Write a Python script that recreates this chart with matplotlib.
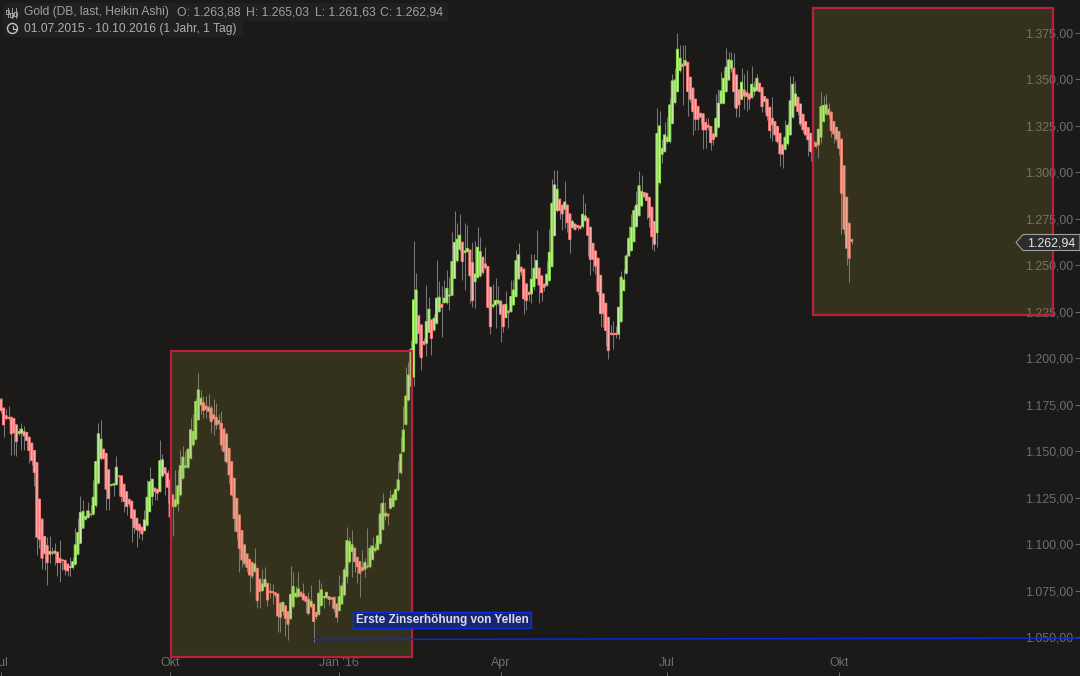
import numpy as np
import matplotlib
matplotlib.use("Agg")
import matplotlib.pyplot as plt
from matplotlib.patches import Rectangle, Circle, Polygon

plt.rcParams['font.family'] = ['Liberation Sans', 'DejaVu Sans']

# heikin ashi werte, aus dem bild gelesen
opens = [
1178.1,1173.3,1169.2,1168.4,1168.4,1167.7,1164.3,1159.8,1159.8,1160.7,
1160.2,1157.7,1154.5,1150.5,1144.0,1124.3,1113.6,1104.3,1099.4,1094.8,
1095.9,1095.3,1095.9,1092.6,1091.7,1091.4,1089.4,1087.6,1087.6,1089.4,
1094.8,1100.7,1108.8,1113.6,1114.5,1116.3,1116.3,1121.0,1133.0,1146.2,
1151.2,1149.0,1140.1,1131.9,1131.9,1132.2,1136.9,1136.9,1132.4,1128.3,
1124.3,1123.3,1118.6,1114.1,1110.9,1109.3,1107.5,1110.4,1117.7,1125.8,
1130.3,1129.7,1128.5,1136.9,1141.2,1138.3,1134.7,1126.7,1120.4,1121.8,
1126.7,1135.6,1141.5,1141.5,1146.4,1153.6,1156.6,1167.0,1175.0,1176.3,
1174.5,1173.8,1173.3,1169.7,1168.4,1166.6,1165.1,1162.0,1159.4,1151.7,
1144.5,1135.6,1124.8,1115.9,1107.5,1099.8,1094.9,1092.0,1090.3,1085.4,
1087.2,1081.3,1075.2,1077.4,1079.1,1074.9,1074.7,1074.1,1073.4,1068.4,
1064.1,1067.0,1063.9,1060.1,1066.6,1072.0,1072.0,1074.3,1073.4,1072.0,
1070.6,1066.6,1067.9,1063.4,1062.5,1067.2,1071.4,1071.4,1072.0,1071.4,
1071.6,1068.0,1064.5,1068.0,1072.9,1082.7,1090.8,1096.2,1098.0,1093.1,
1090.8,1087.7,1086.7,1088.5,1088.1,1092.0,1096.7,1097.4,1100.6,1108.2,
1115.3,1116.4,1119.5,1120.4,1124.0,1129.3,1138.6,1149.9,1164.6,1177.7,
1185.0,1190.0,1208.2,1222.9,1218.0,1209.1,1208.2,1214.1,1220.7,1215.3,
1218.9,1225.2,1229.1,1230.0,1230.0,1233.6,1234.0,1243.1,1252.6,1258.7,
1262.5,1256.9,1257.4,1258.3,1251.5,1241.3,1243.6,1244.4,1254.4,1250.8,
1249.4,1238.3,1227.9,1228.8,1229.7,1230.9,1228.8,1222.0,1225.5,1225.2,
1228.8,1233.3,1242.8,1249.0,1248.0,1240.1,1235.6,1234.7,1238.6,1243.1,
1248.5,1244.4,1239.9,1239.4,1241.9,1249.4,1266.1,1279.5,1285.6,1282.4,
1280.2,1282.4,1277.7,1270.5,1272.3,1271.5,1271.2,1270.9,1274.1,1275.4,
1270.5,1261.9,1257.8,1253.9,1244.7,1234.7,1229.7,1222.1,1213.5,1213.5,
1213.5,1213.0,1219.8,1236.5,1245.8,1255.1,1258.0,1262.8,1270.9,1276.8,
1282.0,1289.2,1288.8,1286.6,1281.3,1273.6,1267.6,1294.5,1309.8,1311.2,
1316.6,1316.6,1326.4,1337.6,1343.5,1354.8,1358.3,1357.6,1359.2,1351.2,
1345.3,1339.4,1335.4,1331.8,1331.5,1326.8,1325.4,1324.7,1320.7,1319.3,
1324.3,1337.2,1337.2,1343.5,1349.7,1356.0,1356.0,1352.4,1344.4,1339.4,
1344.4,1343.1,1342.2,1340.2,1343.5,1344.0,1348.0,1345.6,1340.8,1339.4,
1335.0,1329.1,1327.3,1324.7,1321.0,1314.8,1312.5,1315.5,1320.2,1329.7,
1335.8,1340.4,1336.8,1331.3,1327.3,1324.1,1321.0,1316.6,1316.0,1314.8,
1319.0,1327.4,1331.5,1334.0,1332.4,1327.4,1324.3,1322.0,1317.9,1303.5,
1286.7,1272.7,1263.9]
closes = [
1172.0,1164.3,1167.7,1167.7,1159.5,1160.0,1155.3,1160.7,1162.0,1158.4,
1155.9,1150.5,1145.1,1138.7,1103.9,1102.8,1092.6,1095.0,1090.3,1096.2,
1095.3,1096.4,1090.3,1090.3,1091.4,1086.4,1085.8,1088.1,1090.8,1099.8,
1106.4,1117.2,1117.7,1115.0,1118.0,1115.9,1125.4,1144.6,1159.5,1156.6,
1146.2,1129.7,1124.7,1132.2,1132.6,1141.5,1136.5,1125.8,1123.1,1120.4,
1121.8,1114.1,1109.1,1107.9,1107.5,1105.7,1113.2,1125.4,1133.7,1135.1,
1128.5,1127.6,1145.0,1145.5,1138.0,1130.8,1114.7,1120.4,1124.0,1131.5,
1142.3,1147.0,1142.3,1151.2,1161.6,1160.7,1176.9,1183.1,1178.6,1172.0,
1172.7,1171.5,1166.1,1167.4,1164.3,1164.8,1153.5,1150.0,1144.5,1137.4,
1126.6,1114.0,1106.9,1098.0,1091.7,1089.9,1087.7,1083.6,1083.1,1089.5,
1069.8,1074.7,1078.8,1081.3,1070.2,1074.1,1074.1,1072.9,1061.6,1060.9,
1068.9,1060.3,1057.1,1073.2,1077.4,1073.8,1076.1,1072.3,1070.2,1069.3,
1063.0,1069.5,1058.6,1061.2,1073.8,1075.6,1072.0,1074.3,1070.5,1070.5,
1065.5,1060.9,1072.0,1077.7,1086.3,1102.1,1101.6,1099.8,1090.8,1088.1,
1084.5,1086.0,1090.3,1087.8,1098.0,1099.2,1098.0,1104.6,1116.4,1122.2,
1116.8,1115.3,1124.8,1126.6,1129.5,1134.7,1148.6,1161.5,1179.8,1191.1,
1205.0,1231.5,1236.8,1213.5,1200.4,1207.6,1219.8,1226.5,1210.8,1221.6,
1232.4,1232.9,1227.5,1232.4,1237.7,1234.0,1252.1,1262.3,1264.1,1266.2,
1252.1,1257.8,1259.2,1244.4,1231.1,1245.4,1259.8,1257.4,1246.2,1248.8,
1227.5,1217.1,1228.8,1231.1,1231.1,1223.8,1217.1,1229.1,1224.6,1233.3,
1236.8,1252.6,1255.7,1246.5,1232.0,1231.1,1234.3,1242.6,1248.5,1252.6,
1239.5,1235.4,1238.3,1245.3,1257.1,1283.4,1293.3,1291.0,1279.5,1277.7,
1284.1,1273.0,1263.9,1273.6,1269.4,1270.5,1270.0,1277.5,1276.6,1266.2,
1253.3,1253.3,1249.7,1236.0,1224.1,1224.1,1215.0,1204.2,1213.0,1212.8,
1212.8,1227.5,1243.7,1242.2,1255.1,1264.6,1270.5,1279.5,1282.5,1292.8,
1289.7,1287.0,1284.9,1275.9,1265.5,1261.4,1321.0,1325.0,1313.0,1320.2,
1319.0,1336.3,1349.2,1349.7,1366.2,1361.4,1356.9,1360.1,1343.5,1339.4,
1332.7,1328.6,1328.6,1329.7,1322.9,1322.9,1324.3,1316.0,1317.8,1329.1,
1337.2,1343.8,1350.6,1356.6,1360.5,1360.2,1343.5,1334.5,1336.3,1348.5,
1341.1,1340.8,1339.4,1347.4,1345.6,1350.6,1343.5,1335.4,1338.1,1330.4,
1322.5,1325.6,1320.2,1316.6,1310.0,1309.8,1318.9,1325.4,1338.5,1347.4,
1342.2,1332.7,1326.1,1322.9,1320.2,1317.5,1311.2,1313.9,1314.0,1323.2,
1335.4,1336.0,1336.3,1331.0,1322.5,1320.7,1317.9,1313.0,1288.8,1269.5,
1259.3,1253.9,1262.9]
highs = [
1178.5,1174.0,1173.0,1174.5,1168.6,1168.0,1165.0,1162.5,1165.2,1163.8,
1160.5,1158.0,1155.0,1151.0,1144.5,1125.0,1114.0,1104.8,1104.0,1104.6,
1098.9,1100.7,1096.2,1102.5,1092.0,1092.0,1090.0,1093.5,1093.5,1108.8,
1114.0,1125.8,1124.0,1118.6,1123.0,1121.0,1134.7,1144.8,1165.2,1167.0,
1152.0,1149.2,1140.5,1132.5,1133.0,1147.6,1137.0,1137.0,1132.6,1128.5,
1124.5,1123.5,1118.8,1114.3,1111.0,1109.5,1118.3,1134.7,1141.9,1135.3,
1130.5,1130.0,1156.2,1148.7,1141.5,1139.8,1135.0,1127.0,1140.0,1140.0,
1151.0,1153.0,1150.0,1152.0,1168.0,1170.0,1179.0,1192.0,1183.0,1180.0,
1180.0,1181.0,1175.0,1178.0,1176.0,1170.0,1172.0,1163.0,1160.0,1152.0,
1145.0,1136.0,1125.0,1116.0,1108.0,1100.0,1095.0,1092.0,1091.0,1098.0,
1087.5,1082.0,1086.7,1087.7,1079.5,1079.1,1078.6,1074.5,1074.0,1069.0,
1069.0,1067.5,1064.0,1088.5,1085.4,1077.7,1085.1,1075.0,1079.1,1072.5,
1074.7,1078.3,1068.0,1064.0,1081.3,1079.1,1072.9,1074.5,1072.5,1071.5,
1072.5,1068.5,1083.6,1080.0,1088.0,1109.6,1104.2,1107.8,1098.5,1093.5,
1091.0,1097.0,1092.6,1108.7,1099.8,1104.2,1100.7,1105.1,1122.2,1127.5,
1123.0,1117.0,1129.3,1128.4,1131.0,1145.0,1158.0,1174.4,1195.6,1198.3,
1210.0,1263.4,1245.8,1224.0,1218.5,1211.0,1239.3,1233.0,1221.0,1224.0,
1253.0,1241.8,1239.0,1242.0,1247.6,1244.0,1268.0,1279.1,1272.8,1277.5,
1262.8,1272.8,1271.9,1259.0,1262.5,1263.4,1270.7,1265.5,1255.0,1259.8,
1249.6,1238.5,1240.0,1243.5,1239.0,1231.0,1229.0,1236.0,1226.0,1242.4,
1242.0,1258.3,1262.0,1249.5,1248.5,1240.5,1236.0,1256.0,1256.3,1269.1,
1249.0,1245.0,1240.5,1252.6,1269.5,1296.3,1301.4,1301.4,1286.0,1283.0,
1295.4,1283.0,1278.0,1275.0,1272.5,1272.0,1271.5,1288.4,1283.4,1275.7,
1271.0,1262.0,1258.0,1254.0,1245.0,1235.0,1230.0,1222.5,1218.0,1220.0,
1217.5,1228.0,1247.0,1248.0,1256.0,1271.2,1277.5,1282.0,1290.0,1301.0,
1298.8,1289.5,1289.0,1287.0,1281.5,1274.0,1334.5,1333.0,1318.0,1327.0,
1330.0,1340.0,1353.0,1356.0,1375.0,1368.5,1368.5,1368.5,1359.5,1351.5,
1346.0,1339.5,1336.0,1332.0,1332.0,1329.0,1329.0,1325.0,1321.0,1342.0,
1345.0,1354.0,1355.0,1367.0,1365.0,1365.0,1364.4,1353.0,1345.0,1356.0,
1353.0,1355.1,1342.5,1357.0,1349.0,1353.0,1348.3,1346.0,1341.0,1340.0,
1335.5,1340.8,1327.5,1325.0,1321.5,1315.0,1328.0,1327.0,1352.0,1352.0,
1349.0,1341.0,1337.0,1331.5,1327.5,1324.3,1321.3,1317.0,1316.2,1323.5,
1343.0,1341.0,1342.0,1337.2,1333.0,1327.5,1324.5,1322.2,1318.0,1304.0,
1287.0,1273.0,1265.0]
lows = [
1170.6,1157.7,1167.0,1167.0,1148.2,1148.0,1147.3,1159.0,1150.9,1150.9,
1150.9,1143.7,1142.8,1131.2,1094.4,1098.0,1086.7,1086.4,1078.0,1090.3,
1094.4,1089.0,1082.8,1080.0,1086.4,1083.7,1082.8,1082.8,1087.0,1089.0,
1094.4,1100.7,1108.8,1113.0,1114.0,1115.5,1116.0,1120.4,1132.6,1145.5,
1146.0,1118.3,1118.6,1131.5,1125.8,1132.0,1125.8,1123.1,1117.7,1116.0,
1120.4,1101.6,1106.1,1098.9,1103.4,1102.5,1107.5,1110.0,1117.7,1121.3,
1124.0,1124.0,1128.0,1136.5,1126.7,1122.2,1114.0,1104.3,1120.0,1118.0,
1126.0,1135.0,1141.0,1141.0,1146.0,1153.0,1156.0,1167.0,1170.0,1168.0,
1168.0,1168.0,1160.0,1159.0,1162.0,1162.0,1150.8,1145.0,1144.0,1132.7,
1126.0,1107.0,1103.0,1085.4,1088.0,1089.0,1085.4,1074.3,1082.0,1085.0,
1065.7,1065.7,1075.0,1077.0,1067.0,1071.0,1068.0,1072.0,1053.2,1053.2,
1062.0,1050.8,1048.7,1060.0,1066.0,1071.0,1071.5,1072.0,1070.0,1063.0,
1062.1,1066.0,1047.8,1060.0,1062.0,1067.0,1065.7,1071.0,1067.5,1065.7,
1063.9,1058.5,1064.0,1068.0,1072.5,1079.1,1090.0,1082.7,1085.4,1079.1,
1071.6,1085.5,1082.7,1087.5,1087.5,1091.5,1096.0,1097.0,1100.0,1108.0,
1113.0,1110.5,1119.0,1120.0,1124.0,1129.0,1138.0,1149.5,1164.0,1177.0,
1184.0,1185.0,1208.0,1202.0,1194.0,1207.0,1201.3,1214.0,1201.9,1215.0,
1218.5,1225.0,1211.8,1229.8,1229.5,1225.9,1234.0,1243.0,1252.0,1258.0,
1242.4,1236.9,1257.0,1229.7,1227.5,1227.0,1243.0,1244.0,1245.5,1248.0,
1227.0,1212.9,1227.0,1216.5,1229.0,1209.0,1214.4,1222.0,1216.5,1225.0,
1228.5,1233.0,1242.5,1245.0,1223.9,1226.0,1231.0,1230.0,1237.0,1242.8,
1230.0,1231.0,1236.0,1239.0,1241.5,1249.0,1266.0,1279.0,1275.0,1269.1,
1270.0,1268.2,1256.8,1270.0,1269.0,1269.0,1269.5,1270.0,1274.0,1255.0,
1245.0,1247.0,1245.5,1234.0,1217.0,1217.0,1206.6,1199.8,1212.5,1205.0,
1211.0,1210.5,1219.5,1236.0,1245.5,1255.0,1257.8,1262.5,1270.5,1276.5,
1281.8,1286.0,1275.0,1270.5,1259.0,1258.0,1260.0,1294.0,1305.0,1311.0,
1316.0,1316.0,1326.0,1337.0,1343.0,1354.0,1336.0,1357.0,1330.4,1338.0,
1320.0,1323.0,1323.0,1326.0,1312.8,1313.0,1323.0,1312.0,1315.0,1319.0,
1324.0,1337.0,1337.0,1343.0,1349.5,1354.0,1335.0,1330.0,1330.0,1339.0,
1334.0,1333.0,1334.0,1340.0,1341.0,1344.0,1343.0,1332.6,1332.6,1328.0,
1318.3,1317.0,1317.0,1316.0,1303.6,1302.5,1312.0,1315.0,1320.0,1329.5,
1335.5,1331.0,1325.0,1321.0,1318.0,1309.0,1306.0,1312.0,1313.0,1308.0,
1316.0,1327.0,1331.0,1329.0,1319.0,1316.0,1317.0,1309.5,1267.0,1267.0,
1250.0,1241.0,1261.6]

y_ticks = [1050, 1075, 1100, 1125, 1150, 1175, 1200, 1225, 1250, 1275, 1300, 1325, 1350, 1375]
y_labels = ['1.050,00', '1.075,00', '1.100,00', '1.125,00', '1.150,00', '1.175,00', '1.200,00',
            '1.225,00', '1.250,00', '1.275,00', '1.300,00', '1.325,00', '1.350,00', '1.375,00']
x_ticks = [0, 66, 132, 195, 260, 327]
x_labels = ['Jul', 'Okt', "Jan '16", 'Apr', 'Jul', 'Okt']

last_close = 1262.94
zins_x = [122, 421]
zins_y = [1048.9, 1049.7]
boxes = [(66.35, 1039.5, 94.05, 164.5), (316.9, 1223.4, 93.7, 165.0)]

bg = '#1b1a19'
grey = '#6e6e6e'

o = np.array(opens)
c = np.array(closes)
h = np.array(highs)
l = np.array(lows)
idx = np.arange(len(o))
up = c >= o

fig = plt.figure(figsize=(10.8, 6.76), dpi=100, facecolor=bg)
ax = fig.add_axes([0, 0, 1, 1], facecolor=bg)

ax.vlines(idx, l, h, color='#787878', lw=0.75, zorder=1)
# snap aus, sonst werden die kerzen unterschiedlich breit
ax.bar(idx[up], (c - o)[up], bottom=o[up], width=0.8, color='#cff0b0', edgecolor='#8cdc4e',
       lw=0.75, zorder=2, snap=False)
ax.bar(idx[~up], (o - c)[~up], bottom=c[~up], width=0.8, color='#ffb8b4', edgecolor='#ff7c7c',
       lw=0.75, zorder=2, snap=False)

# markierte bereiche liegen ueber den kerzen
for bx, by, bw, bh in boxes:
    ax.add_patch(Rectangle((bx, by), bw, bh, facecolor='#99932f', alpha=0.2, edgecolor='none', zorder=3))
    ax.add_patch(Rectangle((bx, by), bw, bh, fill=False, edgecolor='#b8203e', lw=1.6, zorder=4))

ax.plot(zins_x, zins_y, color='#0c2bd0', lw=1.1, zorder=5)

ax.set_xlim(-0.39, 421.1)
ax.set_ylim(1029.3, 1392.7)
ax.yaxis.tick_right()
ax.set_yticks(y_ticks)
ax.set_yticklabels(y_labels)
ax.set_xticks(x_ticks)
ax.set_xticklabels(x_labels)
ax.tick_params(axis='y', direction='in', length=3.5, width=0.7, color=grey, labelcolor=grey, labelsize=8.9, pad=-5)
ax.tick_params(axis='x', direction='in', length=3, width=0.7, color=grey, labelcolor=grey, labelsize=8.9, pad=-13.5)
for t in ax.get_yticklabels():
    t.set_ha('right')
for s in ax.spines.values():
    s.set_visible(False)

# kopfzeile, preisschild und beschriftung in pixeln
top = fig.add_axes([0, 0, 1, 1], facecolor='none')
top.set_xlim(0, 1080)
top.set_ylim(676, 0)
top.axis('off')

top.add_patch(Rectangle((3, 3), 445, 18, facecolor='#212020', edgecolor='none'))
top.add_patch(Rectangle((3, 21), 240, 16, facecolor='#212020', edgecolor='none'))

head = '#a0a0a0'
top.text(24, 12.5, 'Gold (DB, last, Heikin Ashi)', color=head, fontsize=8.65, va='center')
top.text(177, 12.5, 'O: 1.263,88', color=head, fontsize=8.8, va='center')
top.text(246, 12.5, 'H: 1.265,03', color=head, fontsize=8.8, va='center')
top.text(315, 12.5, 'L: 1.261,63', color=head, fontsize=8.8, va='center')
top.text(380, 12.5, 'C: 1.262,94', color=head, fontsize=8.8, va='center')
top.text(24, 29, '01.07.2015 - 10.10.2016 (1 Jahr, 1 Tag)', color='#b0b0b0', fontsize=8.65, va='center')

# kerzen symbol
for ix, y0, y1, b0, b1 in [(7.5, 8, 17, 10, 14), (11.5, 8, 18, 13, 17), (15.5, 8, 18, 12, 16)]:
    top.plot([ix, ix], [y0, y1], color=head, lw=0.7)
    top.add_patch(Rectangle((ix - 1.2, b0), 2.4, b1 - b0, fill=False, edgecolor=head, lw=0.7))

# uhr symbol
top.add_patch(Circle((12.5, 28.5), 5, fill=False, edgecolor='#c4c4c4', lw=1))
top.plot([12.5, 12.5, 15.5], [25.5, 29, 29], color='#c4c4c4', lw=0.8)

top.add_patch(Polygon([(1016, 242.5), (1023, 234.5), (1080, 234.5), (1080, 250.5), (1023, 250.5)],
                      closed=True, facecolor='#2c2c2c', edgecolor='#a0a0a0', lw=0.8))
top.text(1051, 243, '1.262,94', color='#e6e6e6', fontsize=8.9, ha='center', va='center')

top.add_patch(Rectangle((353, 612), 178, 16, facecolor='#17266e', edgecolor='#0b2fe0', lw=1))
top.text(442.5, 620, 'Erste Zinserhöhung von Yellen', color='#d9dcea', fontsize=8.5, fontweight='bold',
         ha='center', va='center')

fig.savefig('out.png', dpi=100, facecolor=bg)
